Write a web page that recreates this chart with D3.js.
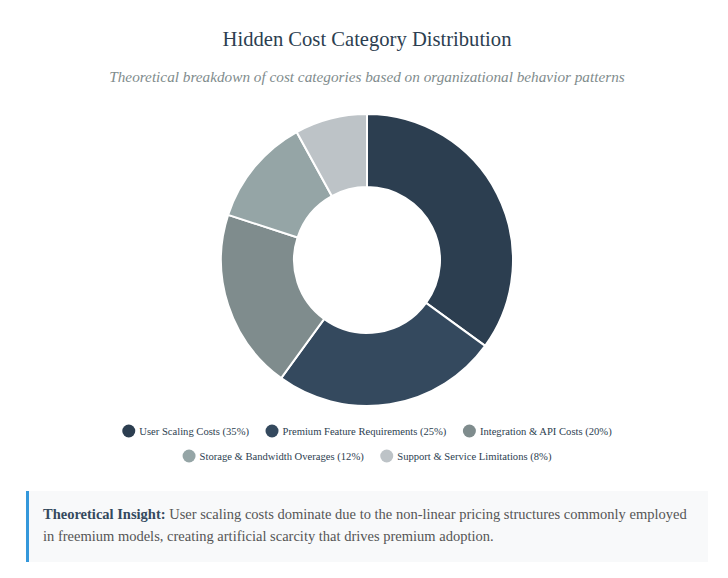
<!DOCTYPE html>
<html>
<head>
<meta charset="utf-8">
<script src="https://cdn.jsdelivr.net/npm/d3@7"></script>
<style>
  html, body { margin: 0; padding: 0; background: #ffffff; }
  svg { display: block; }
</style>
</head>
<body>
<svg id="chart" width="728" height="578"></svg>
<script>
const titleText = "Hidden Cost Category Distribution";
const subtitleText = "Theoretical breakdown of cost categories based on organizational behavior patterns";
const categories = [
  "User Scaling Costs",
  "Premium Feature Requirements",
  "Integration & API Costs",
  "Storage & Bandwidth Overages",
  "Support & Service Limitations"
];
const values = [35, 25, 20, 12, 8];
const colors = ["#2c3e50", "#34495e", "#7f8c8d", "#95a5a6", "#bdc3c7"];
const legendRows = [[0, 1, 2], [3, 4]];
const insightLabel = "Theoretical Insight:";
const insightLines = [
  " User scaling costs dominate due to the non-linear pricing structures commonly employed",
  "in freemium models, creating artificial scarcity that drives premium adoption."
];

const SERIF = "Georgia, 'Liberation Serif', serif";
const svg = d3.select("#chart");
const cx = 367;

svg.append("text")
  .attr("x", cx).attr("y", 46)
  .attr("text-anchor", "middle")
  .style("font-family", SERIF).style("font-size", "20.6px")
  .attr("fill", "#2c3e50")
  .text(titleText);

svg.append("text")
  .attr("x", cx).attr("y", 82)
  .attr("text-anchor", "middle")
  .style("font-family", SERIF).style("font-size", "15.25px").style("font-style", "italic")
  .attr("fill", "#7f8c8d")
  .text(subtitleText);

// Donut
const outerR = 146, innerR = 73;
const pie = d3.pie().sort(null).value(d => d.v);
const arc = d3.arc().innerRadius(innerR).outerRadius(outerR);
const data = categories.map((c, i) => ({ c, v: values[i], color: colors[i] }));
const g = svg.append("g").attr("transform", `translate(${cx},260)`);
g.selectAll("path").data(pie(data)).join("path")
  .attr("d", arc)
  .attr("fill", d => d.data.color)
  .attr("stroke", "#ffffff")
  .attr("stroke-width", 2);

// Legend
const legendY = [431, 456];
const r = 6.5, gapText = 4, itemGap = 16.5;
legendRows.forEach((row, ri) => {
  const lg = svg.append("g");
  const items = row.map(i => {
    const it = lg.append("g");
    it.append("circle").attr("cx", r).attr("cy", 0).attr("r", r).attr("fill", colors[i]);
    const t = it.append("text")
      .attr("x", 2 * r + gapText).attr("y", 3.5)
      .style("font-family", SERIF).style("font-size", "10.6px")
      .attr("fill", "#2c3e50")
      .text(`${categories[i]} (${values[i]}%)`);
    return { it, w: 2 * r + gapText + t.node().getComputedTextLength() };
  });
  const total = d3.sum(items, d => d.w) + itemGap * (items.length - 1);
  let x = cx - total / 2;
  items.forEach(d => {
    d.it.attr("transform", `translate(${x},${legendY[ri]})`);
    x += d.w + itemGap;
  });
});

// Insight box
svg.append("rect").attr("x", 26).attr("y", 491).attr("width", 682).attr("height", 71).attr("fill", "#f8f9fa");
svg.append("rect").attr("x", 26).attr("y", 491).attr("width", 3).attr("height", 71).attr("fill", "#3498db");
const it = svg.append("text")
  .style("font-family", SERIF).style("font-size", "14.5px")
  .attr("fill", "#555555");
const l1 = it.append("tspan").attr("x", 43).attr("y", 519);
l1.append("tspan").style("font-weight", "bold").attr("fill", "#34495e").text(insightLabel);
l1.append("tspan").text(insightLines[0]);
it.append("tspan").attr("x", 43).attr("y", 541).text(insightLines[1]);
</script>
</body>
</html>
